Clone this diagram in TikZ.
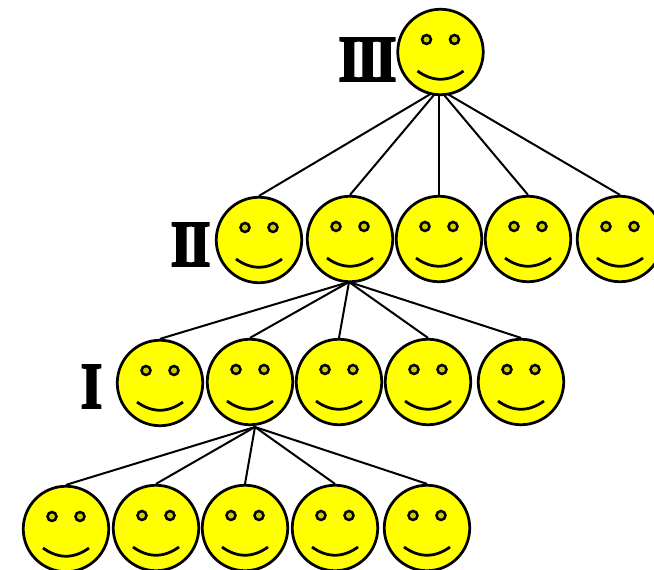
\documentclass[tikz,border=0pt]{standalone}
\usepackage{amsmath}
\usepackage{fontspec}
\newfontfamily\rankfont[FakeBold=3, FakeStretch=0.85, LetterSpace=-5]{Liberation Serif Bold}
\usetikzlibrary{backgrounds}
\definecolor{facecolor}{RGB}{255,255,0}
\definecolor{eyecolor}{RGB}{204,204,0}
\tikzset{
	face/.style={draw, circle, fill=facecolor, line width=0.055cm, minimum size=1.71cm, inner sep=0pt},
	eye/.style={draw, fill=eyecolor, line width=0.05cm},
	smile/.style={draw, line width=0.055cm},
	link/.style={draw, line width=0.04cm},
	rank/.style={font=\fontsize{37}{37}\selectfont\rankfont, inner sep=0pt}
}
\newcommand{\smiley}[3]{
	\node[face] (#1) at (#2,#3) {};
	\path[eye] ([shift={(-14,-12.5)}]#1.center) circle (0.09cm);
	\path[eye] ([shift={(14,-12.5)}]#1.center) circle (0.09cm);
	\path[smile] ([shift={(-23,19)}]#1.center) .. controls ([shift={(-8,30)}]#1.center) and ([shift={(8,30)}]#1.center) .. ([shift={(23,19)}]#1.center);
}
\begin{document}
\begin{tikzpicture}[x=0.02cm, y=-0.02cm]
	\useasboundingbox (0,0) rectangle (654,570);

	\smiley{top}{440.5}{52}

	\smiley{a1}{259}{240}
	\smiley{a2}{350}{239}
	\smiley{a3}{439}{239}
	\smiley{a4}{528}{239}
	\smiley{a5}{620}{239}

	\smiley{b1}{160}{383}
	\smiley{b2}{250}{382}
	\smiley{b3}{339}{382}
	\smiley{b4}{428}{382}
	\smiley{b5}{521}{382}

	\smiley{c1}{66}{529}
	\smiley{c2}{156}{528}
	\smiley{c3}{245}{528}
	\smiley{c4}{335}{528}
	\smiley{c5}{427}{528}

	\node[rank] (r3) at (367.5,59.5) {III};
	\node[rank] (r2) at (190.5,244.5) {II};
	\node[rank] (r1) at (91.5,386.5) {I};

	\coordinate (hubtop) at (439,89);
	\coordinate (huba) at (349,282);
	\coordinate (hubb) at (255,427);

	\begin{scope}[on background layer]
		\draw[link] (hubtop)--(a1.north);
		\draw[link] (hubtop)--(a2.north);
		\draw[link] (hubtop)--(a3.north);
		\draw[link] (hubtop)--(a4.north);
		\draw[link] (hubtop)--(a5.north);

		\draw[link] (huba)--(b1.north);
		\draw[link] (huba)--(b2.north);
		\draw[link] (huba)--(b3.north);
		\draw[link] (huba)--(b4.north);
		\draw[link] (huba)--(b5.north);

		\draw[link] (hubb)--(c1.north);
		\draw[link] (hubb)--(c2.north);
		\draw[link] (hubb)--(c3.north);
		\draw[link] (hubb)--(c4.north);
		\draw[link] (hubb)--(c5.north);
	\end{scope}
\end{tikzpicture}
\end{document}
